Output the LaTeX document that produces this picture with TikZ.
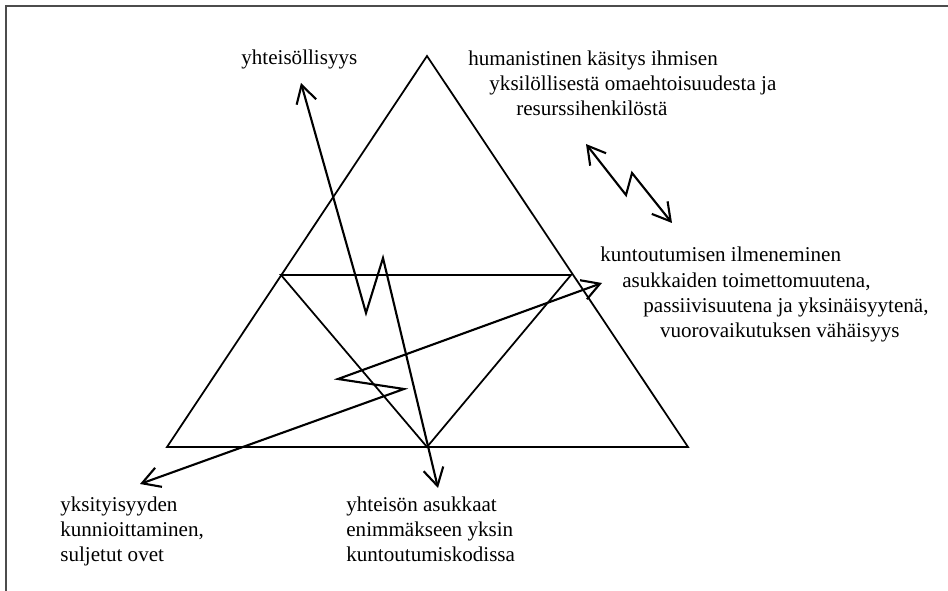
\documentclass[tikz,border=0pt]{standalone}
\usepackage{fontspec}
\setmainfont{Liberation Serif}
\usetikzlibrary{arrows.meta}

\begin{document}
\begin{tikzpicture}[x=0.02cm,y=-0.02cm,>={Straight Barb[length=10pt,width=11.5pt]},
                    side/.style={line width=1pt},
                    link/.style={<->,line width=1.2pt},
                    label text/.style={anchor=base west,inner sep=0pt,align=left,font=\fontsize{12}{14.5}\selectfont}]
  \useasboundingbox (0,0) rectangle (948,591);
  % Frame
  \draw[black!70,line width=0.7pt] (6,591) -- (6,6) -- (948,6);

  % Triangle corners
  \coordinate (T) at (427,56);
  \coordinate (A) at (167,447);
  \coordinate (B) at (688,447);
  \coordinate (L) at (281,275);
  \coordinate (R) at (571,275);
  \coordinate (M) at (427,447);

  % Labels (base = baseline of the last line)
  \node[label text] (yht) at (241,65) {yhteisöllisyys};
  \node[label text] (hum) at (468,116) {humanistinen käsitys ihmisen\\
    \hspace*{12pt}yksilöllisestä omaehtoisuudesta ja\\
    \hspace*{27.3pt}resurssihenkilöstä};
  \node[label text] (kun) at (600,338) {kuntoutumisen ilmeneminen\\
    \hspace*{12.5pt}asukkaiden toimettomuutena,\\
    \hspace*{24.5pt}passiivisuutena ja yksinäisyytenä,\\
    \hspace*{34pt}vuorovaikutuksen vähäisyys};
  \node[label text] (yks) at (60,562) {yksityisyyden\\kunnioittaminen,\\suljetut ovet};
  \node[label text] (ase) at (346,562) {yhteisön asukkaat\\enimmäkseen yksin\\kuntoutumiskodissa};

  % Triangles
  \draw[side] (A) -- (B) -- (T) -- cycle;
  \draw[side] (L) -- (R) -- (M) -- cycle;

  % Arrow ends and bends
  \coordinate (yhtEnd) at (301,83);
  \coordinate (aseEnd) at (438,488);
  \coordinate (bolt1a) at (366,313);
  \coordinate (bolt1b) at (383,258);
  \coordinate (yksEnd) at (140,484);
  \coordinate (kunEnd) at (602,283);
  \coordinate (bolt2a) at (404,389);
  \coordinate (bolt2b) at (338,379);
  \coordinate (humEnd) at (586,144);
  \coordinate (kunTop) at (672,223);
  \coordinate (bolt3a) at (626,195);
  \coordinate (bolt3b) at (632,173);

  % Arrows
  \draw[link] (yhtEnd) -- (bolt1a) -- (bolt1b) -- (aseEnd);
  \draw[link] (yksEnd) -- (bolt2a) -- (bolt2b) -- (kunEnd);
  \draw[link] (humEnd) -- (bolt3a) -- (bolt3b) -- (kunTop);
\end{tikzpicture}
\end{document}
